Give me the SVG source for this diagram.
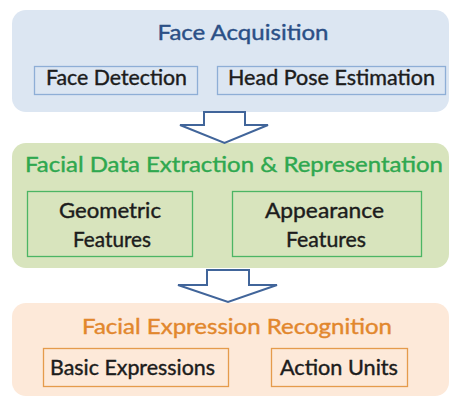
<svg xmlns="http://www.w3.org/2000/svg" width="449" height="398" viewBox="0 0 449 398">
<style>
text{font-family:Lato,"Open Sans","Liberation Sans",sans-serif;font-size:21px;text-anchor:middle;stroke-width:0.4}
.t{font-size:21.5px}
.dark{fill:#1c1c1c;stroke:#1c1c1c}
.arrow{fill:#ffffff;stroke:#41659a;stroke-width:2;stroke-linejoin:miter}
</style>
<rect width="449" height="398" fill="#ffffff"/>
<g id="face-acquisition">
<rect x="12" y="10" width="437" height="102" rx="14" fill="#dce6f2"/>
<text class="t" x="243" y="40" fill="#2b4f86" stroke="#2b4f86" textLength="171" lengthAdjust="spacingAndGlyphs">Face Acquisition</text>
</g>
<g id="face-detection">
<rect x="34.5" y="66.5" width="163" height="28" fill="#dce6f2" stroke="#8eaed6" stroke-width="1.3"/>
<text class="dark" x="116.5" y="85" textLength="141" lengthAdjust="spacingAndGlyphs">Face Detection</text>
</g>
<g id="head-pose-estimation">
<rect x="217.5" y="66.5" width="228" height="28" fill="#dce6f2" stroke="#8eaed6" stroke-width="1.3"/>
<text class="dark" x="331.5" y="85" textLength="207" lengthAdjust="spacingAndGlyphs">Head Pose Estimation</text>
</g>
<g id="facial-data-extraction">
<rect x="12" y="143" width="437" height="125" rx="14" fill="#d8e4bd"/>
<text class="t" x="234" y="172" fill="#2fa84f" stroke="#2fa84f" textLength="418" lengthAdjust="spacingAndGlyphs">Facial Data Extraction &amp; Representation</text>
</g>
<g id="geometric-features">
<rect x="27.5" y="191.5" width="165" height="65" fill="#d8e4bd" stroke="#4cb564" stroke-width="1.3"/>
<text class="dark" x="110" y="218" textLength="102" lengthAdjust="spacingAndGlyphs">Geometric</text>
<text class="dark" x="112" y="247" textLength="78" lengthAdjust="spacingAndGlyphs">Features</text>
</g>
<g id="appearance-features">
<rect x="232.5" y="191.5" width="189" height="65" fill="#d8e4bd" stroke="#4cb564" stroke-width="1.3"/>
<text class="dark" x="324.5" y="218" textLength="119" lengthAdjust="spacingAndGlyphs">Appearance</text>
<text class="dark" x="326" y="247" textLength="80" lengthAdjust="spacingAndGlyphs">Features</text>
</g>
<g id="facial-expression-recognition">
<rect x="12" y="303" width="437" height="93" rx="14" fill="#fde9d9"/>
<text class="t" x="237" y="334" fill="#e2872d" stroke="#e2872d" textLength="310" lengthAdjust="spacingAndGlyphs">Facial Expression Recognition</text>
</g>
<g id="basic-expressions">
<rect x="43.5" y="348.5" width="185" height="38" fill="#fde9d9" stroke="#e59b4c" stroke-width="1.3"/>
<text class="dark" x="132.5" y="375" textLength="165" lengthAdjust="spacingAndGlyphs">Basic Expressions</text>
</g>
<g id="action-units">
<rect x="271.5" y="348.5" width="136" height="38" fill="#fde9d9" stroke="#e59b4c" stroke-width="1.3"/>
<text class="dark" x="339" y="375" textLength="118" lengthAdjust="spacingAndGlyphs">Action Units</text>
</g>
<g id="connectors">
<polygon class="arrow" points="204,112 245,112 245,125 268,125 224.5,143 180,125 204,125"/>
<polygon class="arrow" points="207,270 249,270 249,285 277,285 228,302 178,285 207,285"/>
</g>
</svg>
